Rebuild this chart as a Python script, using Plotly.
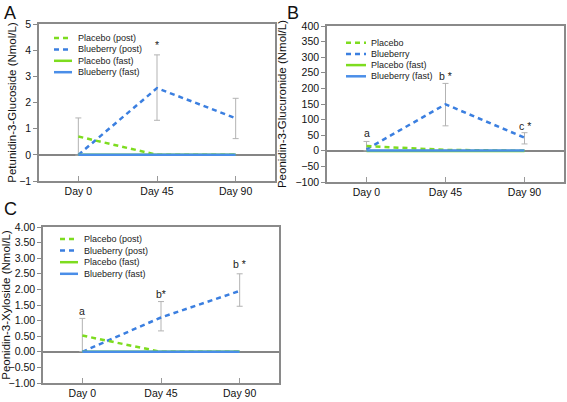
import plotly.graph_objects as go

days = ["Day 0", "Day 45", "Day 90"]

# Panel A: Petunidin-3-Glucoside
a_placebo_post = [0.70, 0.0, 0.0]
a_blueberry_post = [0.0, 2.55, 1.40]
a_placebo_fast = [0.0, 0.0, 0.0]
a_blueberry_fast = [0.0, 0.0, 0.0]
a_err_mean = [0.70, 2.57, 1.39]
a_err = [0.71, 1.25, 0.77]
a_labels = ["", "*", ""]
a_label_y = [None, 4.2, None]
a_names = ["Placebo (post)", "Blueberry (post)", "Placebo (fast)", "Blueberry (fast)"]

# Panel B: Peonidin-3-Glucuronide
b_placebo_post = [15.0, 3.0, 0.0]
b_blueberry_post = [5.0, 149.0, 42.0]
b_placebo_fast = [-1.0, -1.0, -1.0]
b_blueberry_fast = [1.0, 1.0, 1.0]
b_err_mean = [15.0, 148.0, 40.0]
b_err = [15.0, 68.0, 18.0]
b_labels = ["a", "b *", "c *"]
b_label_y = [57, 240, 80]
b_names = ["Placebo", "Blueberry", "Placebo (fast)", "Blueberry (fast)"]

# Panel C: Peonidin-3-Xyloside
c_placebo_post = [0.52, 0.0, 0.0]
c_blueberry_post = [0.0, 1.10, 1.95]
c_placebo_fast = [0.0, 0.0, 0.0]
c_blueberry_fast = [0.0, 0.0, 0.0]
c_err_mean = [0.54, 1.14, 1.98]
c_err = [0.53, 0.47, 0.52]
c_labels = ["a", "b*", "b *"]
c_label_y = [1.31, 1.86, 2.81]
c_names = ["Placebo (post)", "Blueberry (post)", "Placebo (fast)", "Blueberry (fast)"]

GREEN = "#7ddc1f"
BLUE = "#3b7fe0"
BLUE_SOLID = "#4a8ee8"
ERR = "#b3b3b3"
FONT = "Liberation Sans, Arial, sans-serif"
DASH = "5px,4px"
W, H = 567, 402

fig = go.Figure()

panels = [
    dict(ax="", pp=a_placebo_post, bp=a_blueberry_post, pf=a_placebo_fast, bf=a_blueberry_fast,
         em=a_err_mean, ee=a_err, names=a_names, labels=a_labels, ly=a_label_y,
         leg=dict(x0=54, x1=72, tx=76, y0=38, dy=11.4)),
    dict(ax="2", pp=b_placebo_post, bp=b_blueberry_post, pf=b_placebo_fast, bf=b_blueberry_fast,
         em=b_err_mean, ee=b_err, names=b_names, labels=b_labels, ly=b_label_y,
         leg=dict(x0=346, x1=366, tx=369, y0=42.7, dy=11.2)),
    dict(ax="3", pp=c_placebo_post, bp=c_blueberry_post, pf=c_placebo_fast, bf=c_blueberry_fast,
         em=c_err_mean, ee=c_err, names=c_names, labels=c_labels, ly=c_label_y,
         leg=dict(x0=60, x1=78, tx=82, y0=239, dy=11.6)),
]

styles = [(GREEN, DASH), (BLUE, DASH), (GREEN, "solid"), (BLUE_SOLID, "solid")]

for p in panels:
    xa = "x" + p["ax"]
    ya = "y" + p["ax"]
    fig.add_trace(go.Scatter(x=days, y=p["em"], mode="markers", marker=dict(size=1, opacity=0),
                             error_y=dict(type="data", array=p["ee"], color=ERR, thickness=1, width=3),
                             showlegend=False, hoverinfo="skip", xaxis=xa, yaxis=ya))
    series = [p["pp"], p["bp"], p["pf"], p["bf"]]
    for idx in [1, 0, 2, 3]:
        col, dash = styles[idx]
        fig.add_trace(go.Scatter(x=days, y=series[idx], mode="lines", name=p["names"][idx],
                                 line=dict(color=col, width=2.5, dash=dash),
                                 xaxis=xa, yaxis=ya, showlegend=False))
    for d, t, yv in zip(days, p["labels"], p["ly"]):
        if t:
            fig.add_annotation(x=d, y=yv, text=t, showarrow=False, xref=xa, yref=ya,
                               font=dict(size=10.5, color="#222", family=FONT))
    # legend block (key lines + text)
    lg = p["leg"]
    for i, name in enumerate(p["names"]):
        col, dash = styles[i]
        yy = 1 - (lg["y0"] + i * lg["dy"]) / H
        fig.add_shape(type="line", xref="paper", yref="paper",
                      x0=lg["x0"] / W, x1=lg["x1"] / W, y0=yy, y1=yy,
                      line=dict(color=col, width=2.5, dash=dash))
        fig.add_annotation(text=name, x=lg["tx"] / W, y=yy, xref="paper", yref="paper",
                           xanchor="left", yanchor="middle", showarrow=False,
                           font=dict(size=9, family=FONT, color="#222"))

def dom(a, b, total):
    return [a / total, b / total]

axis_common = dict(showline=True, mirror=True, linecolor="#8a8a8a", linewidth=1.5,
                   showgrid=False, automargin=False, tickfont=dict(size=10.5, color="#111", family=FONT))
xcommon = dict(axis_common, type="category", range=[-0.5, 2.5], ticks="inside", ticklen=5,
               tickcolor="#9a9a9a", zeroline=False)
ycommon = dict(axis_common, ticks="outside", ticklen=4, tickcolor="#8a8a8a",
               zeroline=True, zerolinecolor="#858585", zerolinewidth=2)

fig.update_layout(
    width=W, height=H, margin=dict(l=0, r=0, t=0, b=0),
    paper_bgcolor="white", plot_bgcolor="white",
    font=dict(family=FONT, color="#111"),
    showlegend=False,
    xaxis=dict(xcommon, domain=dom(39, 275, W), anchor="y"),
    yaxis=dict(ycommon, domain=[1 - 181 / H, 1 - 24 / H], anchor="x", range=[-1, 5], dtick=1,
               title=dict(text="Petunidin-3-Glucoside (Nmol/L)", font=dict(size=11.5), standoff=0)),
    xaxis2=dict(xcommon, domain=dom(327, 564, W), anchor="y2"),
    yaxis2=dict(ycommon, domain=[1 - 182 / H, 1 - 26 / H], anchor="x2", range=[-100, 400], dtick=50,
                title=dict(text="Peonidin-3-Glucuronide (Nmol/L)", font=dict(size=11.5), standoff=6)),
    xaxis3=dict(xcommon, domain=dom(43, 279, W), anchor="y3"),
    yaxis3=dict(ycommon, domain=[1 - 383 / H, 1 - 227 / H], anchor="x3", range=[-1, 4], dtick=0.5,
                tickformat=".2f",
                title=dict(text="Peonidin-3-Xyloside (Nmol/L)", font=dict(size=11.5), standoff=6)),
)

for txt, x, y in [("A", 2, 1), ("B", 285, 1), ("C", 2, 197)]:
    fig.add_annotation(text=txt, x=x / W, y=1 - y / H, xref="paper", yref="paper",
                       xanchor="left", yanchor="top", showarrow=False,
                       font=dict(size=18, family=FONT, color="#111"))

fig.write_html("out.html", config={"displayModeBar": False},
               post_script="document.body.style.margin='0px';document.body.style.overflow='hidden';")
